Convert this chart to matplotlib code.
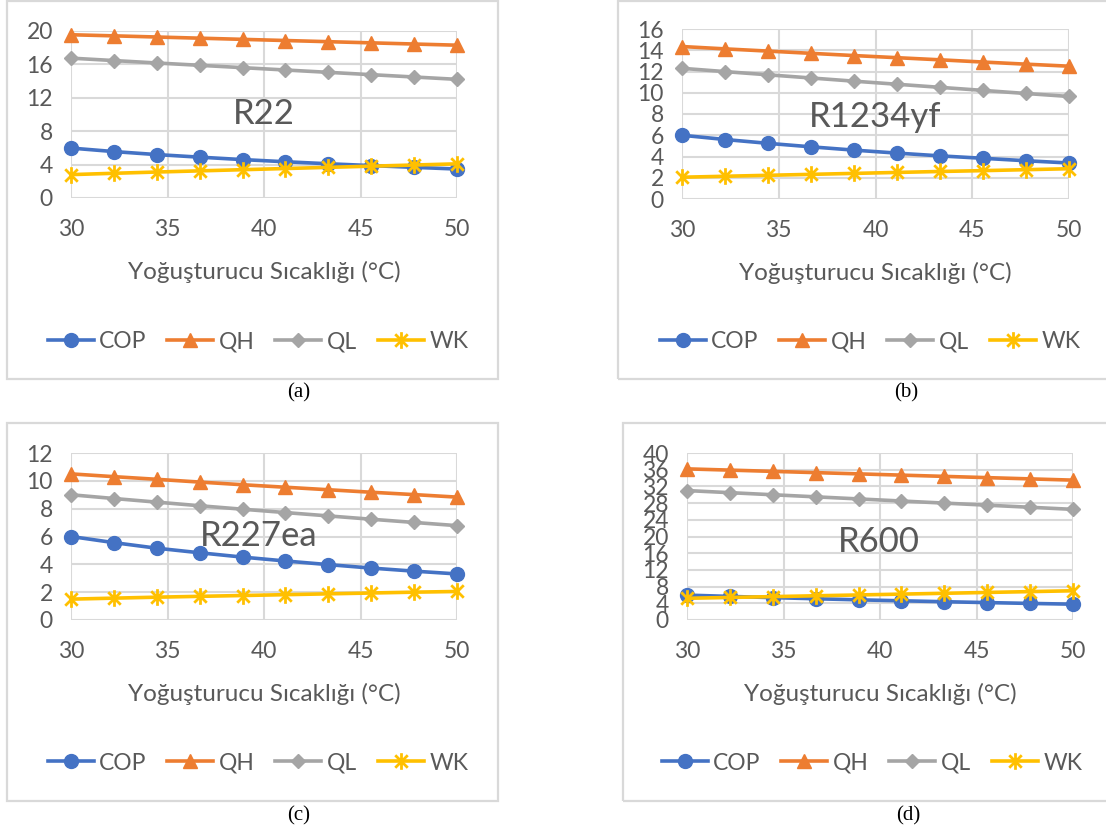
import matplotlib
matplotlib.use("Agg")
import matplotlib.pyplot as plt
from matplotlib.patches import Rectangle
from matplotlib.path import Path

# condenser temperature (°C), 10 points from 30 to 50
T_COND = [30, 32.22, 34.44, 36.67, 38.89, 41.11, 43.33, 45.56, 47.78, 50]

# R22
R22_COP = [5.98, 5.56, 5.20, 4.89, 4.60, 4.34, 4.10, 3.88, 3.67, 3.47]
R22_QH = [19.55, 19.42, 19.28, 19.14, 19.00, 18.86, 18.72, 18.58, 18.44, 18.30]
R22_QL = [16.75, 16.46, 16.17, 15.89, 15.61, 15.33, 15.05, 14.77, 14.49, 14.21]
R22_WK = [2.80, 2.96, 3.11, 3.25, 3.39, 3.53, 3.67, 3.81, 3.95, 4.09]

# R1234yf
R1234YF_COP = [6.00, 5.60, 5.24, 4.91, 4.60, 4.32, 4.06, 3.83, 3.60, 3.39]
R1234YF_QH = [14.35, 14.13, 13.92, 13.71, 13.50, 13.30, 13.10, 12.89, 12.69, 12.50]
R1234YF_QL = [12.30, 11.99, 11.69, 11.39, 11.09, 10.80, 10.51, 10.22, 9.93, 9.65]
R1234YF_WK = [2.05, 2.14, 2.23, 2.32, 2.41, 2.50, 2.59, 2.67, 2.76, 2.85]

# R227ea
R227EA_COP = [6.00, 5.56, 5.16, 4.83, 4.52, 4.24, 3.98, 3.73, 3.51, 3.31]
R227EA_QH = [10.50, 10.30, 10.11, 9.91, 9.72, 9.54, 9.36, 9.18, 9.01, 8.83]
R227EA_QL = [9.00, 8.73, 8.47, 8.21, 7.96, 7.72, 7.48, 7.24, 7.01, 6.78]
R227EA_WK = [1.50, 1.57, 1.64, 1.70, 1.76, 1.82, 1.88, 1.94, 2.00, 2.05]

# R600
R600_COP = [5.96, 5.65, 5.36, 5.09, 4.83, 4.60, 4.38, 4.17, 3.97, 3.79]
R600_QH = [36.2, 35.9, 35.6, 35.3, 35.0, 34.7, 34.4, 34.1, 33.8, 33.5]
R600_QL = [31.0, 30.5, 30.0, 29.5, 29.0, 28.5, 28.0, 27.5, 27.0, 26.5]
R600_WK = [5.2, 5.4, 5.6, 5.8, 6.0, 6.2, 6.4, 6.6, 6.8, 7.0]

SERIES = ["COP", "QH", "QL", "WK"]
X_TICKS = [30, 35, 40, 45, 50]
XLABEL = "Yoğuşturucu Sıcaklığı (°C)"

TXT = "#595959"
GRID = "#D9D9D9"
COLORS = {"COP": "#4472C4", "QH": "#ED7D31", "QL": "#A5A5A5", "WK": "#FFC000"}

# excel-like "star" marker: vertical bar plus an X
STAR = Path([(0, -1), (0, 1), (-0.75, -0.75), (0.75, 0.75), (-0.75, 0.75), (0.75, -0.75)],
            [Path.MOVETO, Path.LINETO, Path.MOVETO, Path.LINETO, Path.MOVETO, Path.LINETO])

MARKERS = {
    "COP": dict(marker="o", markersize=10),
    "QH": dict(marker="^", markersize=10),
    "QL": dict(marker="D", markersize=7),
    "WK": dict(marker=STAR, markersize=12, markerfacecolor="none", markeredgewidth=2),
}

plt.rcParams["font.family"] = ["Lato", "DejaVu Sans"]

W, H = 1106, 832
fig = plt.figure(figsize=(W / 100, H / 100), dpi=100)


def fx(px):
    return px / W


def fy(py):
    return 1 - py / H


def frame(x0, y0, x1, y1):
    fig.add_artist(Rectangle((fx(x0), fy(y1)), fx(x1 - x0), (y1 - y0) / H,
                             transform=fig.transFigure, fill=False,
                             edgecolor=GRID, lw=1.6))


def panel(box, data, ymax, ystep, name, name_pos, legend_xy, caption, caption_xy, frame_box):
    x0, y0, x1, y1 = box
    ax = fig.add_axes([fx(x0), fy(y1), fx(x1 - x0), (y1 - y0) / H])
    for key in SERIES:
        ax.plot(T_COND, data[key], color=COLORS[key], lw=2.6, label=key,
                markerfacecolor=MARKERS[key].get("markerfacecolor", COLORS[key]),
                markeredgecolor=COLORS[key],
                **{k: v for k, v in MARKERS[key].items() if k != "markerfacecolor"},
                zorder=3, clip_on=False)
    ax.set_xlim(30, 50)
    ax.set_ylim(0, ymax)
    ax.set_xticks(X_TICKS)
    ax.set_yticks(list(range(0, ymax + 1, ystep)))
    ax.grid(True, color=GRID, lw=1.5)
    ax.set_axisbelow(True)
    for s in ax.spines.values():
        s.set_visible(False)
    ax.tick_params(length=0, labelsize=16.5, labelcolor=TXT)
    ax.tick_params(axis="y", pad=13)
    ax.tick_params(axis="x", pad=15)
    ax.set_xlabel(XLABEL, fontsize=17.5, color=TXT, labelpad=15)
    ax.text(name_pos[0], name_pos[1], name, transform=ax.transAxes,
            ha="center", va="center", fontsize=25, color=TXT)
    ax.legend(loc="center", bbox_to_anchor=(fx(legend_xy[0]), fy(legend_xy[1])),
              bbox_transform=fig.transFigure, ncol=4, frameon=False,
              fontsize=16.5, labelcolor=TXT, handlelength=2.0, handletextpad=0.25,
              columnspacing=0.9)
    frame(*frame_box)
    fig.text(fx(caption_xy[0]), fy(caption_xy[1]), caption, ha="center", va="center",
             fontsize=15, family="Liberation Serif", color="black")


panel((71, 31, 457, 198),
      {"COP": R22_COP, "QH": R22_QH, "QL": R22_QL, "WK": R22_WK},
      20, 4, "R22", (0.5, 0.505), (258, 342), "(a)", (299, 393), (7, 1, 498, 379))

panel((682, 29, 1069, 199),
      {"COP": R1234YF_COP, "QH": R1234YF_QH, "QL": R1234YF_QL, "WK": R1234YF_WK},
      16, 2, "R1234yf", (0.5, 0.485), (870, 342), "(b)", (906, 393), (618, 1, 1112, 379))

panel((71, 453, 457, 620),
      {"COP": R227EA_COP, "QH": R227EA_QH, "QL": R227EA_QL, "WK": R227EA_WK},
      12, 2, "R227ea", (0.485, 0.505), (258, 763), "(c)", (299, 816), (7, 423, 498, 801))

panel((687, 453, 1073, 620),
      {"COP": R600_COP, "QH": R600_QH, "QL": R600_QL, "WK": R600_WK},
      40, 4, "R600", (0.497, 0.465), (872, 763), "(d)", (908, 816), (623, 423, 1112, 801))

fig.savefig("out.png", dpi=100)
